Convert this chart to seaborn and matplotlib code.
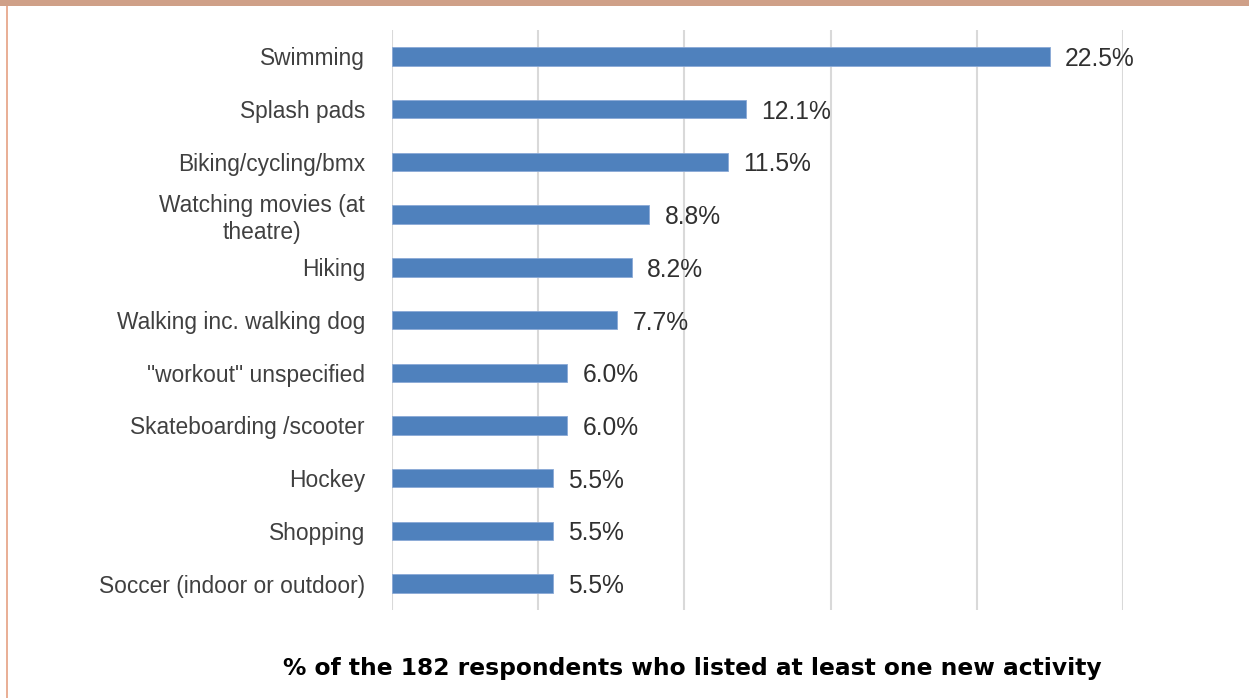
import matplotlib
matplotlib.use("Agg")
import matplotlib.pyplot as plt
import seaborn as sns
import pandas as pd
from matplotlib.patches import Rectangle
from matplotlib.lines import Line2D

categories = [
    "Swimming",
    "Splash pads",
    "Biking/cycling/bmx",
    "Watching movies (at\ntheatre)",
    "Hiking",
    "Walking inc. walking dog",
    "\"workout\" unspecified",
    "Skateboarding /scooter",
    "Hockey",
    "Shopping",
    "Soccer (indoor or outdoor)",
]
values = [22.5, 12.1, 11.5, 8.8, 8.2, 7.7, 6.0, 6.0, 5.5, 5.5, 5.5]
value_labels = ["22.5%", "12.1%", "11.5%", "8.8%", "8.2%", "7.7%", "6.0%", "6.0%", "5.5%", "5.5%", "5.5%"]
xticks = [0, 5, 10, 15, 20, 25]
xlabel = "% of the 182 respondents who listed at least one new activity"

sns.set_theme(style="white")
plt.rcParams["font.family"] = ["Liberation Sans", "DejaVu Sans"]

df = pd.DataFrame({"activity": categories, "pct": values})

fig = plt.figure(figsize=(12.49, 6.98), dpi=100)
ax = fig.add_axes([392 / 1249, 1 - 610 / 698, (1123 - 392) / 1249, (610 - 30) / 698])

sns.barplot(data=df, y="activity", x="pct", orient="h", color="#4f81bd",
            width=0.35, edgecolor="#8aa9d6", linewidth=0.6, saturation=1, ax=ax)

ax.set_xlim(0, 25)
ax.set_ylim(10.5, -0.5)
ax.set_xticks(xticks)
ax.set_xticklabels([])
ax.tick_params(axis="x", length=0)
ax.tick_params(axis="y", length=0, pad=19.5, labelsize=16.4, labelcolor="#404040")
ax.grid(axis="x", color="#d9d9d9", linewidth=1.5)
ax.set_axisbelow(True)
for s in ax.spines.values():
    s.set_visible(False)
ax.set_xlabel("")
ax.set_ylabel("")

for lbl in ax.get_yticklabels():
    lbl.set_multialignment("center")

texts = ax.bar_label(ax.containers[0], labels=value_labels, padding=11, fontsize=17.7, color="#303030")
for t in texts:
    t.set_va("center_baseline")

fig.text(692 / 1249, 1 - 668 / 698, xlabel, ha="center", va="center",
         fontsize=16.8, fontweight="bold", color="#000000", family="DejaVu Sans")

# decorative frame: top band and thin left line
fig.patches.append(Rectangle((0, 1 - 6 / 698), 1, 6 / 698, transform=fig.transFigure,
                             facecolor="#cfa088", edgecolor="none", zorder=5))
fig.lines.append(Line2D([6.5 / 1249, 6.5 / 1249], [0, 1 - 6 / 698], transform=fig.transFigure,
                        color="#e5a183", linewidth=1.2))

fig.savefig("out.png", dpi=100, facecolor="white")
